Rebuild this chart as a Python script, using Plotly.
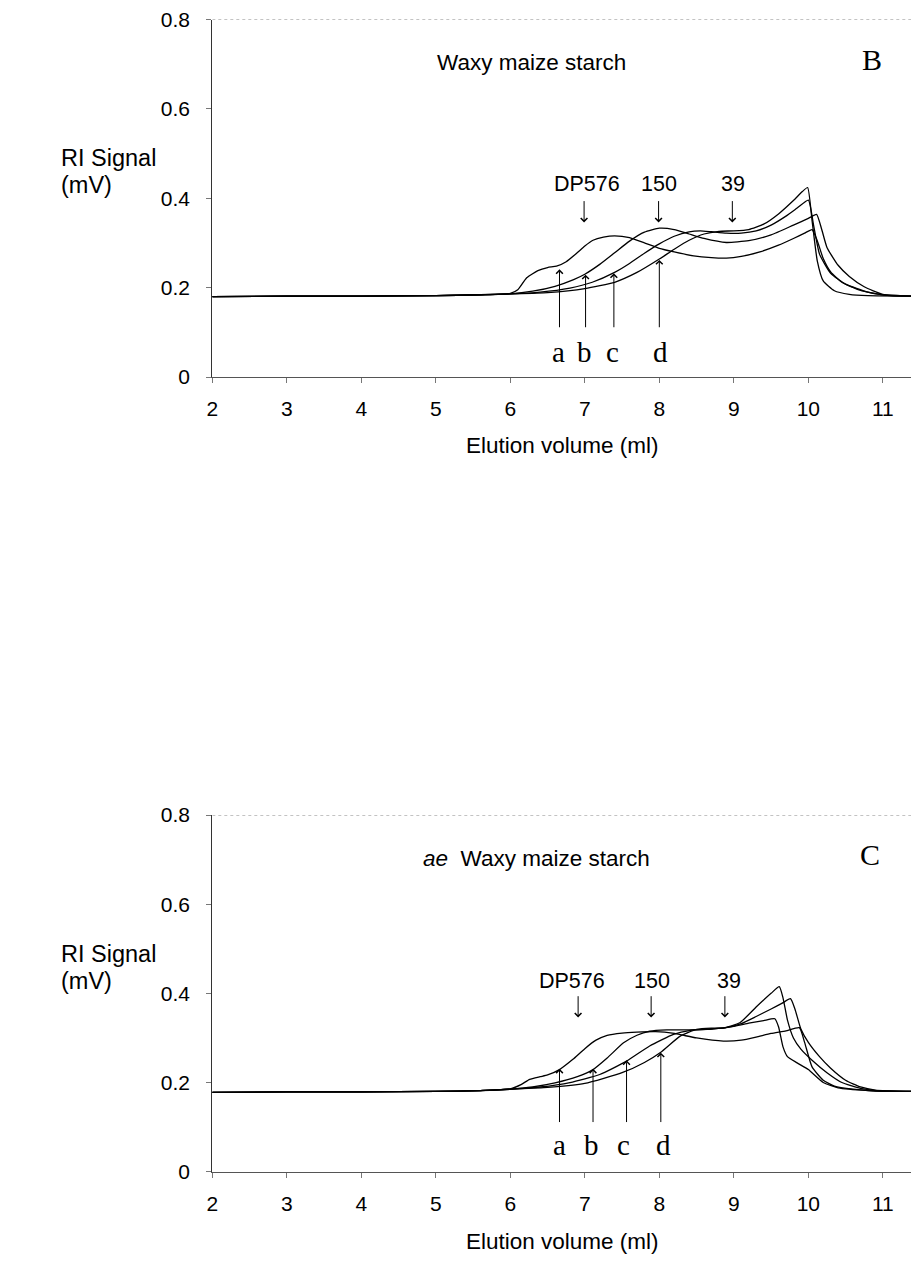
import plotly.graph_objects as go

# ---------------- data: panel B (Waxy maize starch) ----------------
B_a_x = [2, 3, 4, 5, 5.6, 6.0, 6.1, 6.22, 6.37, 6.5, 6.62, 6.75, 6.89, 7.0, 7.11, 7.25, 7.4, 7.6, 7.8, 8.0,
         8.2, 8.46, 8.7, 8.9, 9.1, 9.35, 9.6, 9.8, 9.95, 10.05, 10.12, 10.2, 10.3, 10.45, 10.7, 11.0, 11.4]
B_a_y = [0.180, 0.181, 0.181, 0.182, 0.184, 0.187, 0.195, 0.222, 0.238, 0.245, 0.248, 0.258, 0.277, 0.293,
         0.306, 0.313, 0.316, 0.312, 0.300, 0.288, 0.280, 0.271, 0.267, 0.266, 0.270, 0.280, 0.295, 0.310,
         0.322, 0.330, 0.305, 0.265, 0.235, 0.212, 0.194, 0.184, 0.181]

B_b_x = [2, 3, 4, 5, 5.6, 6.0, 6.3, 6.6, 6.85, 7.0, 7.2, 7.4, 7.6, 7.8, 8.0, 8.2, 8.4, 8.6, 8.9, 9.2, 9.5,
         9.8, 10.0, 10.11, 10.18, 10.25, 10.4, 10.55, 10.75, 11.0, 11.4]
B_b_y = [0.180, 0.181, 0.181, 0.182, 0.184, 0.186, 0.192, 0.203, 0.218, 0.230, 0.252, 0.278, 0.304, 0.324,
         0.333, 0.330, 0.320, 0.310, 0.301, 0.305, 0.318, 0.340, 0.355, 0.364, 0.330, 0.290, 0.250, 0.225,
         0.202, 0.185, 0.181]

B_c_x = [2, 3, 4, 5, 5.6, 6.0, 6.4, 6.8, 7.1, 7.4, 7.6, 7.8, 8.0, 8.2, 8.4, 8.55, 8.7, 8.9, 9.1, 9.3, 9.5,
         9.7, 9.85, 10.0, 10.07, 10.15, 10.3, 10.5, 10.8, 11.1, 11.4]
B_c_y = [0.180, 0.181, 0.181, 0.182, 0.184, 0.186, 0.190, 0.199, 0.212, 0.234, 0.254, 0.277, 0.298, 0.315,
         0.325, 0.327, 0.325, 0.322, 0.322, 0.327, 0.340, 0.360, 0.378, 0.396, 0.340, 0.275, 0.232, 0.208,
         0.190, 0.182, 0.181]

B_d_x = [2, 3, 4, 5, 5.6, 6.0, 6.5, 7.0, 7.4, 7.7, 8.0, 8.2, 8.4, 8.6, 8.8, 9.0, 9.2, 9.4, 9.6, 9.8, 9.92,
         9.99, 10.05, 10.12, 10.2, 10.35, 10.55, 10.8, 11.4]
B_d_y = [0.180, 0.181, 0.181, 0.182, 0.184, 0.186, 0.189, 0.198, 0.212, 0.234, 0.264, 0.286, 0.306, 0.320,
         0.326, 0.327, 0.330, 0.342, 0.365, 0.395, 0.415, 0.424, 0.350, 0.260, 0.215, 0.193, 0.185, 0.182,
         0.181]

# ---------------- data: panel C (ae Waxy maize starch) ----------------
C_a_x = [2, 3, 4, 5, 5.6, 6.0, 6.15, 6.26, 6.4, 6.5, 6.66, 6.84, 7.0, 7.15, 7.3, 7.5, 7.7, 7.95, 8.2, 8.5,
         8.86, 9.1, 9.3, 9.5, 9.7, 9.88, 9.95, 10.05, 10.2, 10.35, 10.6, 10.9, 11.4]
C_a_y = [0.178, 0.179, 0.179, 0.180, 0.182, 0.186, 0.196, 0.207, 0.213, 0.217, 0.229, 0.252, 0.276, 0.295,
         0.306, 0.311, 0.313, 0.314, 0.310, 0.300, 0.293, 0.295, 0.302, 0.310, 0.316, 0.323, 0.290, 0.235,
         0.205, 0.192, 0.185, 0.181, 0.180]

C_b_x = [2, 3, 4, 5, 5.6, 6.0, 6.3, 6.6, 6.9, 7.11, 7.3, 7.52, 7.7, 7.87, 8.1, 8.4, 8.7, 9.0, 9.2, 9.4,
         9.55, 9.6, 9.66, 9.72, 9.85, 10.0, 10.2, 10.4, 10.8, 11.4]
C_b_y = [0.178, 0.179, 0.179, 0.180, 0.182, 0.185, 0.190, 0.199, 0.213, 0.229, 0.255, 0.289, 0.306, 0.315,
         0.318, 0.318, 0.320, 0.326, 0.333, 0.339, 0.343, 0.325, 0.280, 0.258, 0.244, 0.229, 0.200, 0.188,
         0.182, 0.180]

C_c_x = [2, 3, 4, 5, 5.6, 6.0, 6.4, 6.8, 7.2, 7.56, 7.87, 8.19, 8.42, 8.7, 8.9, 9.1, 9.3, 9.5, 9.65, 9.76,
         9.82, 9.9, 10.0, 10.15, 10.3, 10.5, 10.7, 10.9, 11.4]
C_c_y = [0.178, 0.179, 0.179, 0.180, 0.182, 0.185, 0.190, 0.200, 0.218, 0.248, 0.282, 0.308, 0.317, 0.320,
         0.323, 0.332, 0.348, 0.365, 0.378, 0.388, 0.365, 0.320, 0.290, 0.258, 0.232, 0.205, 0.190, 0.183,
         0.180]

C_d_x = [2, 3, 4, 5, 5.6, 6.0, 6.5, 7.0, 7.5, 7.8, 8.02, 8.28, 8.5, 8.7, 8.86, 9.08, 9.31, 9.5, 9.61, 9.66,
         9.72, 9.8, 9.9, 10.05, 10.25, 10.45, 10.7, 11.0, 11.4]
C_d_y = [0.178, 0.179, 0.179, 0.180, 0.182, 0.185, 0.189, 0.198, 0.222, 0.245, 0.268, 0.304, 0.319, 0.322,
         0.322, 0.334, 0.371, 0.400, 0.415, 0.390, 0.340, 0.300, 0.275, 0.250, 0.222, 0.200, 0.187, 0.181,
         0.180]

# ---------------- tick labels ----------------
Y_TICKS = [0, 0.2, 0.4, 0.6, 0.8]
Y_TICK_TEXT = ["0", "0.2", "0.4", "0.6", "0.8"]
X_TICKS = [2, 3, 4, 5, 6, 7, 8, 9, 10, 11]
X_TICK_TEXT = ["2", "3", "4", "5", "6", "7", "8", "9", "10", "11"]

# ---------------- marker annotations ----------------
DP_LABELS = ["DP576", "150", "39"]
B_DP_ARROW_X = [6.99, 7.99, 8.98]
B_DP_TEXT_X = [7.03, 7.99, 8.99]
C_DP_ARROW_X = [6.91, 7.89, 8.88]
C_DP_TEXT_X = [6.83, 7.90, 8.93]
SAMPLE_LABELS = ["a", "b", "c", "d"]
B_SAMPLE_X = [6.64, 7.0, 7.37, 8.01]
B_ARROW_X = [6.66, 7.01, 7.39, 8.0]
B_SAMPLE_TIP = [0.241, 0.229, 0.232, 0.262]
C_SAMPLE_X = [6.66, 7.09, 7.52, 8.05]
C_ARROW_X = [6.66, 7.11, 7.56, 8.02]
C_SAMPLE_TIP = [0.231, 0.231, 0.250, 0.267]

W, H = 911, 1263
SANS = "Liberation Sans, Arial, Helvetica, sans-serif"
SERIF = "Liberation Serif, Times New Roman, serif"
X_LEFT_PX = 212.3
XMAX = 11.378

fig = go.Figure()

line_style = dict(color="black", width=1.3, shape="spline", smoothing=0.5)
for xs, ys in [(B_a_x, B_a_y), (B_b_x, B_b_y), (B_c_x, B_c_y), (B_d_x, B_d_y)]:
    fig.add_trace(go.Scatter(x=xs, y=ys, mode="lines", line=line_style, xaxis="x", yaxis="y",
                             showlegend=False, hoverinfo="skip"))
for xs, ys in [(C_a_x, C_a_y), (C_b_x, C_b_y), (C_c_x, C_c_y), (C_d_x, C_d_y)]:
    fig.add_trace(go.Scatter(x=xs, y=ys, mode="lines", line=line_style, xaxis="x2", yaxis="y2",
                             showlegend=False, hoverinfo="skip"))

xdom = [X_LEFT_PX / W, 1.0]
axis_x = dict(range=[2, XMAX], tickvals=X_TICKS, ticktext=X_TICK_TEXT, showgrid=False, zeroline=False,
              showline=True, linecolor="#555", linewidth=1.4, ticks="outside", ticklen=5, tickcolor="#777",
              tickwidth=1, tickfont=dict(family=SANS, size=21, color="black"), ticklabelstandoff=8,
              domain=xdom)
axis_y = dict(range=[0, 0.8], tickvals=Y_TICKS, ticktext=Y_TICK_TEXT, showgrid=False, zeroline=False,
              showline=True, linecolor="#333", linewidth=1.2, ticks="outside", ticklen=5, tickcolor="#777",
              tickwidth=1, tickfont=dict(family=SANS, size=21, color="black"), ticklabelstandoff=12)

fig.update_layout(
    width=W, height=H, margin=dict(l=0, r=0, t=0, b=0, autoexpand=False),
    paper_bgcolor="white", plot_bgcolor="white", showlegend=False,
    xaxis=dict(axis_x, anchor="y"),
    yaxis=dict(axis_y, anchor="x", domain=[1 - 377 / H, 1 - 19.5 / H]),
    xaxis2=dict(axis_x, anchor="y2"),
    yaxis2=dict(axis_y, anchor="x2", domain=[1 - 1171.7 / H, 1 - 815 / H]),
)

ann = []
shapes = []
panels = [
    ("x", "y", 0, "Waxy maize starch", 7.58, "B", 10.85, B_DP_ARROW_X, B_DP_TEXT_X, 0.433,
     B_SAMPLE_X, B_ARROW_X, B_SAMPLE_TIP, 0.057),
    ("x2", "y2", 795.5, "<i>ae</i>\u00a0 Waxy maize starch", 7.90, "C", 10.83, C_DP_ARROW_X, C_DP_TEXT_X, 0.427,
     C_SAMPLE_X, C_ARROW_X, C_SAMPLE_TIP, 0.060),
]
for (xr, yr, off, title, title_x, letter, letter_x, dpa, dpt, dpy,
     sx, sax, stip, label_y) in panels:
    shapes.append(dict(type="line", xref=xr, yref=yr, x0=2, x1=XMAX, y0=0.8, y1=0.8,
                       line=dict(color="#888", width=1.2, dash="dot")))
    ann.append(dict(xref=xr, yref=yr, x=title_x, y=0.703, text=title, showarrow=False,
                    font=dict(family=SANS, size=22.5, color="black"), xanchor="right", yanchor="middle"))
    ann.append(dict(xref=xr, yref=yr, x=letter_x, y=0.711, text=letter, showarrow=False,
                    font=dict(family=SERIF, size=30, color="black"), xanchor="center", yanchor="middle"))
    for lab, xa, xt in zip(DP_LABELS, dpa, dpt):
        ann.append(dict(xref=xr, yref=yr, x=xt, y=dpy, text=lab, showarrow=False,
                        font=dict(family=SANS, size=21.5, color="black"), xanchor="center", yanchor="middle"))
        ann.append(dict(xref=xr, yref=yr, x=xa, y=0.346, ax=xa, ay=0.397, axref=xr, ayref=yr, text="",
                        showarrow=True, arrowhead=4, arrowsize=1.3, arrowwidth=1, arrowcolor="black"))
    for lab, xv, xa, tip in zip(SAMPLE_LABELS, sx, sax, stip):
        ann.append(dict(xref=xr, yref=yr, x=xv, y=label_y, text=lab, showarrow=False,
                        font=dict(family=SERIF, size=29, color="black"), xanchor="center", yanchor="middle"))
        ann.append(dict(xref=xr, yref=yr, x=xa, y=tip, ax=xa, ay=0.108, axref=xr, ayref=yr, text="",
                        showarrow=True, arrowhead=4, arrowsize=1.3, arrowwidth=1, arrowcolor="black"))
    ann.append(dict(xref="paper", yref="paper", x=59 / W, y=1 - (158 + off) / H, text="RI Signal",
                    showarrow=False, xanchor="left", yanchor="middle",
                    font=dict(family=SANS, size=23.5, color="black")))
    ann.append(dict(xref="paper", yref="paper", x=59 / W, y=1 - (185 + off) / H, text="(mV)",
                    showarrow=False, xanchor="left", yanchor="middle",
                    font=dict(family=SANS, size=23.5, color="black")))
    ann.append(dict(xref="paper", yref="paper", x=562 / W, y=1 - (446 + off) / H, text="Elution volume (ml)",
                    showarrow=False, xanchor="center", yanchor="middle",
                    font=dict(family=SANS, size=22.5, color="black")))

fig.update_layout(annotations=ann, shapes=shapes)
fig.write_html(
    "out.html",
    config={"displayModeBar": False},
    post_script=("document.documentElement.style.margin='0px';document.body.style.margin='0px';"
                 "document.documentElement.style.overflow='hidden';document.body.style.overflow='hidden';"),
)
